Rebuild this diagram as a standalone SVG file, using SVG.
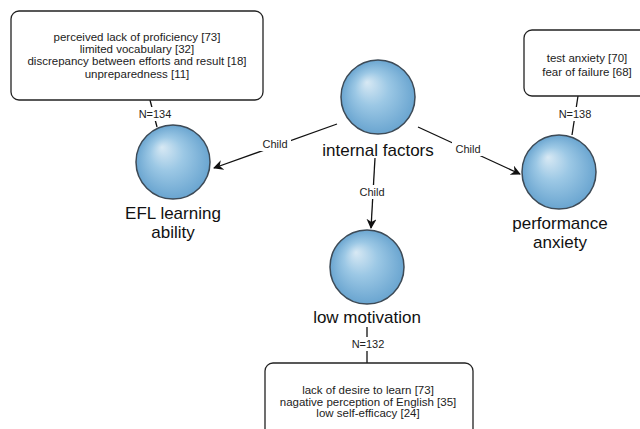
<svg xmlns="http://www.w3.org/2000/svg" width="640" height="429" viewBox="0 0 640 429">
<style>
.box{fill:#fff;stroke:#222;stroke-width:1.3}
.bt{font-family:"Liberation Sans",Arial,sans-serif;font-size:11.5px;fill:#222;text-anchor:middle}
.nl{font-family:"Liberation Sans",Arial,sans-serif;font-size:17px;fill:#111;text-anchor:middle}
.el{font-family:"Liberation Sans",Arial,sans-serif;font-size:11px;fill:#222;text-anchor:middle}
.ball{fill:url(#sph);stroke:#3d4a56;stroke-width:1.5}
.edge{stroke:#111;stroke-width:1.3;fill:none}
.lbg{fill:#fff}
</style>
<defs>
<radialGradient id="sph" cx="0.5" cy="0.5" r="0.5" fx="0.35" fy="0.3">
<stop offset="0" stop-color="#d8e9f4"/>
<stop offset="0.45" stop-color="#9cc8e5"/>
<stop offset="1" stop-color="#6aa5d0"/>
</radialGradient>
<marker id="arr" viewBox="0 0 10 10" refX="9" refY="5" markerWidth="10" markerHeight="10" markerUnits="userSpaceOnUse" orient="auto">
<path d="M0,0 L10,5 L0,10 L3,5 Z" fill="#111"/>
</marker>
</defs>
<rect width="640" height="429" fill="#fff"/>
<g id="connectors">
<line class="edge" x1="337" y1="124" x2="214" y2="168" marker-end="url(#arr)"/>
<rect class="lbg" x="259" y="137" width="32" height="14"/>
<text class="el" x="275" y="148">Child</text>
<line class="edge" x1="375" y1="158" x2="371" y2="228" marker-end="url(#arr)"/>
<rect class="lbg" x="356" y="185" width="32" height="14"/>
<text class="el" x="372" y="196">Child</text>
<line class="edge" x1="418" y1="127" x2="520" y2="174" marker-end="url(#arr)"/>
<rect class="lbg" x="452" y="142" width="32" height="14"/>
<text class="el" x="468" y="153">Child</text>
<line class="edge" x1="150" y1="100" x2="157" y2="127" stroke-width="1"/>
<rect class="lbg" x="135" y="107" width="40" height="14"/>
<text class="el" x="155" y="118">N=134</text>
<line class="edge" x1="578" y1="96" x2="572" y2="135"/>
<rect class="lbg" x="555" y="107" width="40" height="14"/>
<text class="el" x="575" y="118">N=138</text>
<line class="edge" x1="367" y1="327" x2="367" y2="363"/>
<rect class="lbg" x="348" y="337" width="40" height="14"/>
<text class="el" x="368" y="348">N=132</text>
</g>
<g id="box-efl">
<rect class="box" x="11" y="11" width="252" height="89" rx="8"/>
<text class="bt" x="137" y="41">perceived lack of proficiency [73]</text>
<text class="bt" x="137" y="53">limited vocabulary [32]</text>
<text class="bt" x="137" y="65">discrepancy between efforts and result [18]</text>
<text class="bt" x="137" y="78">unpreparedness [11]</text>
</g>
<g id="box-perf">
<rect class="box" x="524" y="30" width="130" height="66" rx="8"/>
<text class="bt" x="587" y="62">test anxiety [70]</text>
<text class="bt" x="587" y="76">fear of failure [68]</text>
</g>
<g id="box-motiv">
<rect class="box" x="265" y="363" width="208" height="80" rx="8"/>
<text class="bt" x="368" y="394">lack of desire to learn [73]</text>
<text class="bt" x="368" y="406">nagative perception of English [35]</text>
<text class="bt" x="368" y="417">low self-efficacy [24]</text>
</g>
<g id="node-internal">
<circle class="ball" cx="378" cy="97" r="37"/>
<text class="nl" x="378" y="156">internal factors</text>
</g>
<g id="node-efl">
<circle class="ball" cx="173" cy="162" r="37"/>
<text class="nl" x="173" y="219">EFL learning</text>
<text class="nl" x="173" y="238">ability</text>
</g>
<g id="node-motiv">
<circle class="ball" cx="367" cy="267" r="37"/>
<text class="nl" x="367" y="323">low motivation</text>
</g>
<g id="node-perf">
<circle class="ball" cx="559" cy="172" r="37"/>
<text class="nl" x="560" y="229">performance</text>
<text class="nl" x="560" y="248">anxiety</text>
</g>
</svg>
